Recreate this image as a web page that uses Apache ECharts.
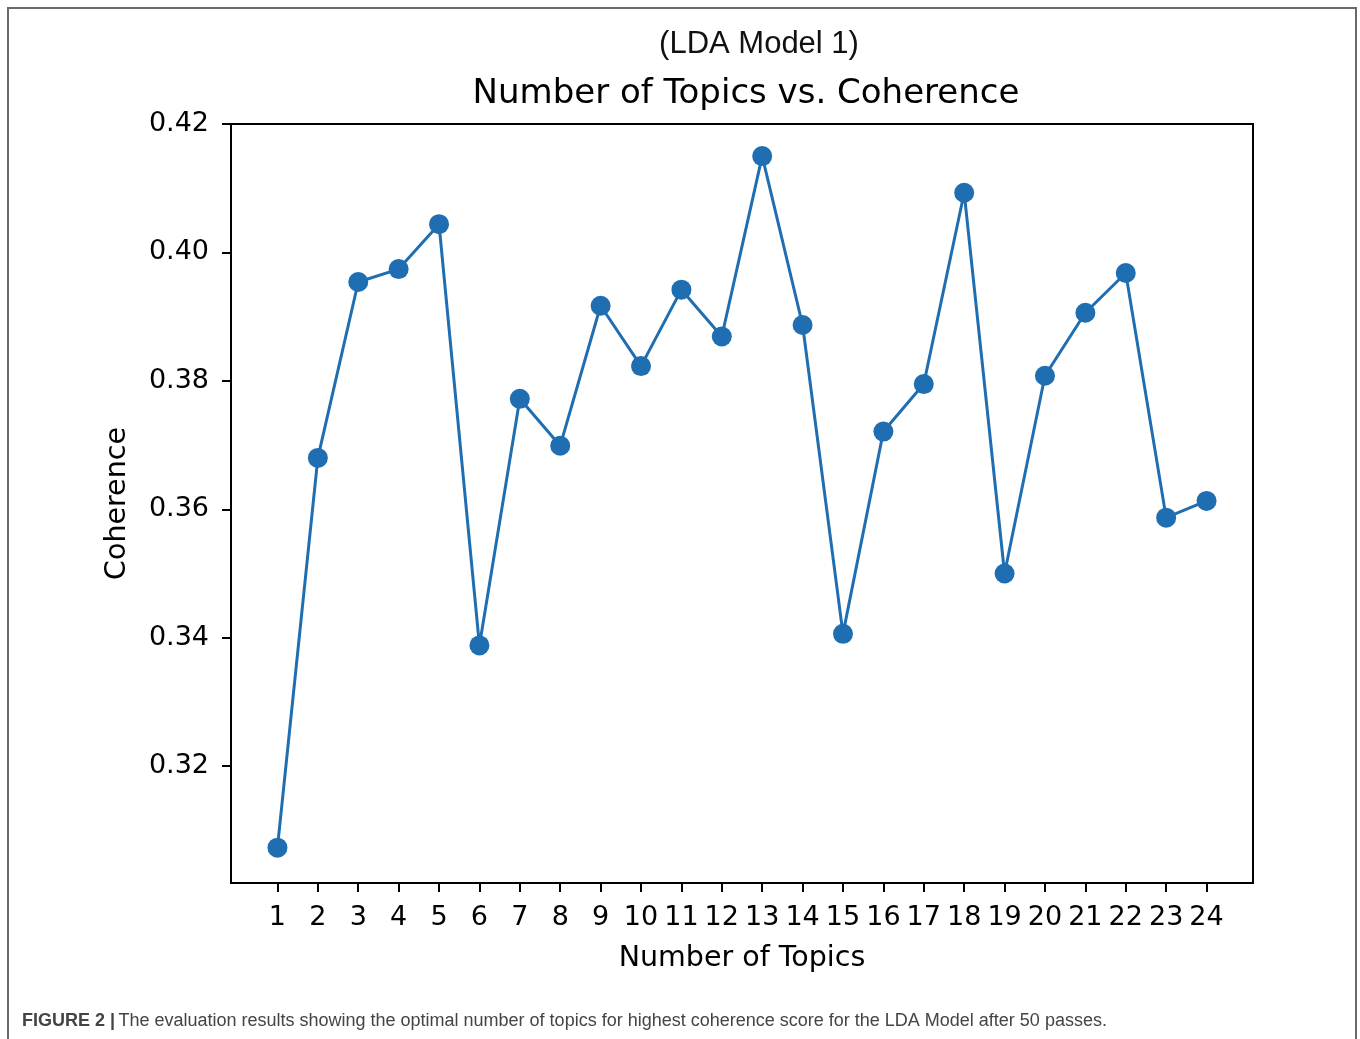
<!DOCTYPE html>
<html><head><meta charset="utf-8">
<script src="https://cdn.jsdelivr.net/npm/echarts@6/dist/echarts.min.js"></script>
<style>html,body{margin:0;padding:0;background:#fff}#c{width:1360px;height:1039px}</style>
</head><body><div id="c"></div>
<script>
const topics = [1,2,3,4,5,6,7,8,9,10,11,12,13,14,15,16,17,18,19,20,21,22,23,24];
const coherence = [0.3073,0.3680,0.3954,0.3974,0.4044,0.3388,0.3772,0.3699,0.3917,0.3823,0.3942,0.3869,0.4150,0.3887,0.3406,0.3721,0.3795,0.4093,0.3500,0.3808,0.3906,0.3968,0.3587,0.3613];
const yTicks = [0.32,0.34,0.36,0.38,0.40,0.42];
const titleTop = '(LDA Model 1)';
const titleMain = 'Number of Topics vs. Coherence';
const xName = 'Number of Topics';
const yName = 'Coherence';

const chart = echarts.init(document.getElementById('c'));
const dv = 'DejaVu Sans';
chart.setOption({
  backgroundColor: '#fff',
  animation: false,
  title: [
    {text: titleTop, left: 754, top: 39, textAlign: 'center', textVerticalAlign: 'middle',
     textStyle: {fontFamily: 'Liberation Sans', fontSize: 31, fontWeight: 'normal', color: '#111'}},
    {text: titleMain, left: 741, top: 89, textAlign: 'center', textVerticalAlign: 'middle',
     textStyle: {fontFamily: dv, fontSize: 34, fontWeight: 'normal', color: '#000'}}
  ],
  grid: {left: 231, right: 107, top: 124, bottom: 156, show: true, borderColor: '#000', borderWidth: 2, backgroundColor: 'transparent'},
  xAxis: {
    type: 'value', min: -0.15, max: 25.15,
    name: xName, nameLocation: 'middle', nameGap: 61,
    nameTextStyle: {fontFamily: dv, fontSize: 28.5, color: '#000'},
    axisLine: {show: true, onZero: false, lineStyle: {color: '#000', width: 2}},
    axisTick: {show: true, length: 9, lineStyle: {color: '#000', width: 2}, customValues: topics},
    axisLabel: {fontFamily: dv, fontSize: 27, color: '#000', margin: 21, customValues: topics},
    splitLine: {show: false}
  },
  yAxis: {
    type: 'value', min: 0.3018, max: 0.4200,
    name: yName, nameLocation: 'middle', nameGap: 99, nameRotate: 90,
    nameTextStyle: {fontFamily: dv, fontSize: 28.5, color: '#000'},
    axisLine: {show: true, onZero: false, lineStyle: {color: '#000', width: 2}},
    axisTick: {show: true, length: 9, lineStyle: {color: '#000', width: 2}, customValues: yTicks},
    axisLabel: {fontFamily: dv, fontSize: 27, color: '#000', margin: 22, customValues: yTicks,
      formatter: v => v.toFixed(2)},
    splitLine: {show: false}
  },
  series: [{
    type: 'line',
    data: topics.map((t, i) => [t, coherence[i]]),
    symbol: 'circle', symbolSize: 20,
    itemStyle: {color: '#1f6eb2'},
    lineStyle: {color: '#1f6eb2', width: 3},
    z: 3
  }],
  graphic: [
    {type: 'rect', shape: {x: 8, y: 8, width: 1348, height: 1040}, style: {fill: 'none', stroke: '#6a6a6a', lineWidth: 2}, silent: true},
    {type: 'text', left: 22, top: 1012, style: {
      text: '{b|FIGURE 2 |} {n|The evaluation results showing the optimal number of topics for highest coherence score for the LDA Model after 50 passes.}',
      rich: {
        b: {fontFamily: 'Liberation Sans', fontSize: 18, fontWeight: 'bold', fill: '#444'},
        n: {fontFamily: 'Liberation Sans', fontSize: 18, fill: '#444'}
      }
    }}
  ]
});
</script>
</body></html>
